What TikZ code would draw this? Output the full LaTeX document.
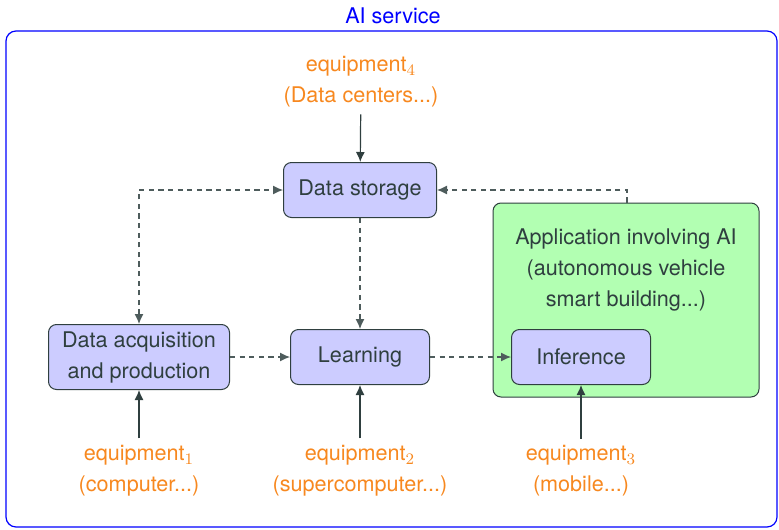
\documentclass[tikz,border=0pt]{standalone}
\usepackage{fontspec}
\setmainfont{TeX Gyre Heros}
\usetikzlibrary{arrows.meta}

\definecolor{slate}{HTML}{2F3F3F}
\definecolor{boxblue}{HTML}{CCCCFF}
\definecolor{appgreen}{HTML}{B2FFB2}
\definecolor{equiporange}{HTML}{F7881F}

\begin{document}
\begin{tikzpicture}[x=0.5pt, y=-0.5pt,
    every node/.style={font=\fontsize{10.8}{15.5}\selectfont, text=slate},
    block/.style={draw=slate, fill=boxblue, rounded corners=4pt, line width=0.5pt, align=center},
    equip/.style={text=equiporange, align=center},
    flow/.style={draw=slate, line width=0.6pt, -{Latex[length=5pt, width=4.5pt]}},
    dataflow/.style={flow, draw=slate!85, dash pattern=on 2.6pt off 2.2pt}]
  \useasboundingbox (0,0) rectangle (779,529);

  % service frame
  \draw[blue, rounded corners=5pt, line width=0.6pt] (6,31) rectangle (777,527);
  \node[text=blue] (title) at (393,16) {AI service};

  % application box with the inference step
  \node[draw=slate, fill=appgreen, rounded corners=4pt, line width=0.5pt,
        minimum width=133pt, minimum height=97pt] (app) at (626,300) {};
  \node[align=center] (apptext) at (626,270) {Application involving AI\\(autonomous vehicle\\smart building...)};

  % blocks
  \node[block, minimum width=76.5pt, minimum height=27.5pt] (DS) at (360,190) {Data storage};
  \node[block, minimum width=90.5pt, minimum height=32.5pt] (DA) at (139,357) {Data acquisition\\and production};
  \node[block, minimum width=69.5pt, minimum height=27.5pt] (L) at (360,357) {Learning};
  \node[block, minimum width=69.5pt, minimum height=27.5pt] (I) at (581,357) {Inference};

  % equipment
  \node[equip] (eq4) at (361,82) {equipment$_4$\\(Data centers...)};
  \node[equip] (eq1) at (139,471) {equipment$_1$\\(computer...)};
  \node[equip] (eq2) at (360,471) {equipment$_2$\\(supercomputer...)};
  \node[equip] (eq3) at (581,471) {equipment$_3$\\(mobile...)};

  \draw[flow] (eq4) -- (DS);
  \draw[flow] (eq1) -- (DA);
  \draw[flow] (eq2) -- (L);
  \draw[flow] (eq3) -- (I);

  % data exchanges
  \draw[dataflow, {Latex[length=5pt, width=4.5pt]}-{Latex[length=5pt, width=4.5pt]}] (DA.north) |- (DS.west);
  \draw[dataflow] (DS) -- (L);
  \draw[dataflow] (DA) -- (L);
  \draw[dataflow] (L) -- (I);
  \draw[dataflow] (app.north) ++(1,0) |- (DS.east);
\end{tikzpicture}
\end{document}
